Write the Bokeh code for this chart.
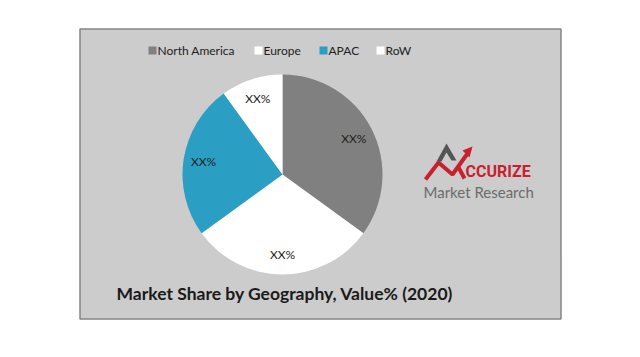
import numpy as np
from bokeh.plotting import figure
from bokeh.models import ColumnDataSource
from bokeh.core.properties import value
from bokeh.embed import file_html
from bokeh.resources import INLINE

# ---- data ----
regions = ["North America", "Europe", "APAC", "RoW"]
shares = [35, 30, 25, 10]
slice_labels = ["XX%", "XX%", "XX%", "XX%"]
colors = ["#808080", "#ffffff", "#2a9fc3", "#ffffff"]
title_text = "Market Share by Geography, Value% (2020)"
logo_main = "CCURIZE"
logo_sub = "Market Research"

W, H = 640, 357
p = figure(width=W, height=H, x_range=(0, W), y_range=(0, H), min_border=0,
           toolbar_location=None, output_backend="svg",
           x_axis_location=None, y_axis_location=None)
p.grid.visible = False
p.outline_line_color = None
p.background_fill_color = "white"
p.border_fill_color = "white"


def Y(py):
    return H - py


# panel
p.quad(left=79.5, right=560.5, top=Y(28.5), bottom=Y(318.5),
       fill_color="#cccccc", line_color="#858585", line_width=1.5)

# pie
cx, cy, r = 282, Y(174), 100
frac = np.array(shares, dtype=float) / sum(shares)
cum = np.concatenate([[0], np.cumsum(frac)])
start = np.pi / 2 - 2 * np.pi * cum[:-1]
end = np.pi / 2 - 2 * np.pi * cum[1:]
mid = (start + end) / 2
src = ColumnDataSource(dict(start=start, end=end, color=colors,
                            lx=cx + 0.8 * r * np.cos(mid),
                            ly=cy + 0.8 * r * np.sin(mid),
                            label=slice_labels))
p.wedge(x=cx, y=cy, radius=r, start_angle="start", end_angle="end",
        direction="clock", fill_color="color", line_color=None, source=src)
p.text(x="lx", y="ly", text="label", source=src, text_align="center",
       text_baseline="middle", text_font=value("Lato"), text_font_size="12px",
       text_color="#222222")

# legend
sq_x = [152, 258, 323, 380]
leg_src = ColumnDataSource(dict(x=sq_x, tx=[x + 5 for x in sq_x],
                                y=[Y(50)] * 4, color=colors, name=regions))
p.rect(x="x", y="y", width=8, height=8, fill_color="color", line_color=None,
       source=leg_src)
p.text(x="tx", y="y", text="name", source=leg_src, text_align="left",
       text_baseline="middle", text_font=value("Lato"), text_font_size="12px",
       text_color="#222222")

# title
p.text(x=[284.5], y=[Y(293)], text=[title_text], text_align="center",
       text_baseline="middle", text_font=value("Lato"), text_font_style="bold",
       text_font_size="17.5px", text_color="#1a1a1a")

# logo
gx = [436, 446, 456, 451, 446, 441]
gy = [Y(v) for v in [161, 143, 160, 160, 152, 161]]
p.patch(gx, gy, fill_color="#555555", line_color=None)
p.line([425, 438, 452, 467], [Y(v) for v in [179, 162, 174, 153]],
       line_color="#c8202f", line_width=4)
p.line([457, 464], [Y(165), Y(178)], line_color="#c8202f", line_width=4)
p.patch([472, 462, 469], [Y(146), Y(150), Y(157)], fill_color="#c8202f",
        line_color=None)
p.text(x=[465], y=[Y(170.5)], text=[logo_main], text_align="left",
       text_baseline="middle", text_font=value("Roboto"),
       text_font_style="bold", text_font_size="16px", text_color="#c8202f")
p.text(x=[423], y=[Y(191)], text=[logo_sub], text_align="left",
       text_baseline="middle", text_font=value("Lato"),
       text_font_size="15px", text_color="#6b6b6b")

open("out.html", "w").write(file_html(p, INLINE))
